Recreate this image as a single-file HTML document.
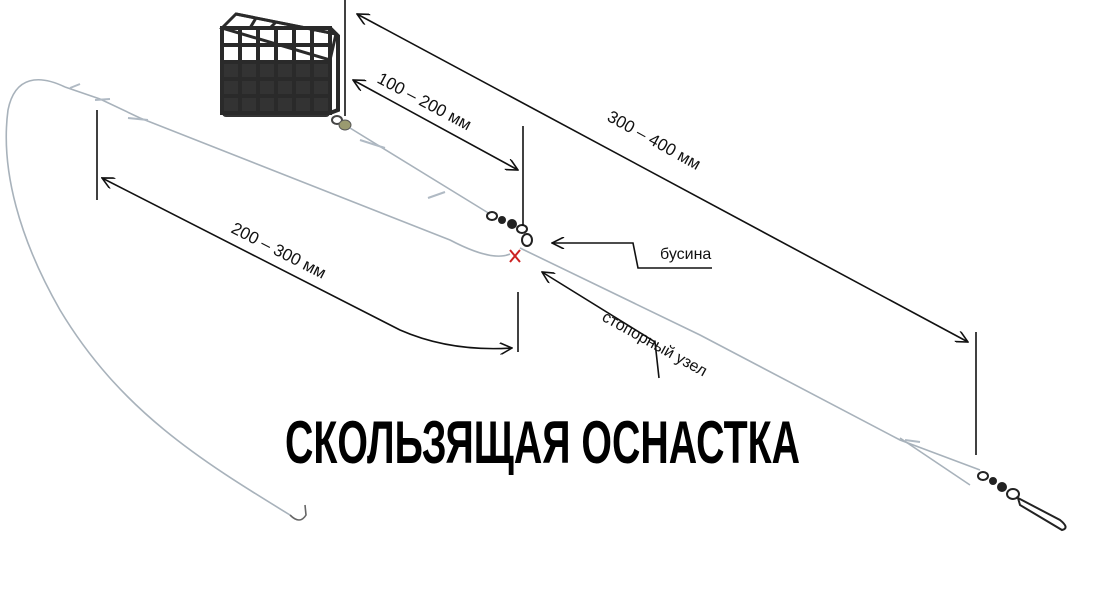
<!DOCTYPE html>
<html><head><meta charset="utf-8"><style>
html,body{margin:0;padding:0;background:#fff;width:1110px;height:607px;overflow:hidden}
svg{display:block}
text{font-family:"Liberation Sans","DejaVu Sans",sans-serif;fill:#111}
</style></head><body>
<svg width="1110" height="607" viewBox="0 0 1110 607" xmlns="http://www.w3.org/2000/svg">
<defs>
<marker id="ah" markerWidth="14" markerHeight="12" refX="1" refY="6" orient="auto" markerUnits="userSpaceOnUse">
<path d="M13,0 L1,6 L13,12" fill="none" stroke="#111" stroke-width="1.6"/>
</marker>
<marker id="ah2" markerWidth="14" markerHeight="12" refX="13" refY="6" orient="auto" markerUnits="userSpaceOnUse">
<path d="M1,0 L13,6 L1,12" fill="none" stroke="#111" stroke-width="1.6"/>
</marker>
</defs>
<!-- feeder cage -->
<g stroke="#2a2a2a" fill="none">
<rect x="222" y="62" width="108" height="55" fill="#333" stroke="none" rx="4"/>
<path d="M222,28 L236,14 L336,34 L330,60 Z" fill="#fff" stroke-width="3"/>
<rect x="222" y="28" width="108" height="85" fill="none" stroke-width="4"/>
<path d="M240,28 V113 M258,28 V113 M276,28 V113 M294,28 V113 M312,28 V113 M222,45 H330 M222,62 H330 M222,79 H330 M222,96 H330" stroke-width="4"/>
<path d="M330,28 L338,36 V110 L330,113" stroke-width="4"/>
<path d="M236,14 L336,34 M256,18 L250,28 M276,22 L270,28 M296,26 L290,28 M316,30 L312,30" stroke-width="3"/>
</g>
<ellipse cx="337" cy="120" rx="5" ry="4" fill="none" stroke="#444" stroke-width="2"/>
<ellipse cx="345" cy="125" rx="6" ry="5" fill="#9a9a70" stroke="#555"/>
<!-- fishing lines -->
<g stroke="#a8b2bb" stroke-width="1.6" fill="none">
<path d="M350,128 L490,214"/>
<path d="M65,87 L100,99 L140,118 L450,240 Q492,262 510,254"/>
<path d="M65,87 C40,75 15,75 8,110 C0,170 20,240 60,310 C120,410 200,460 290,515"/>
<path d="M520,248 L700,335 L900,440 L980,470"/>
<path d="M900,438 L970,485"/>
</g>
<path d="M290,515 Q300,525 306,515 L305,505" stroke="#666" stroke-width="1.6" fill="none"/>
<!-- knots -->
<g stroke="#b0bac4" stroke-width="2" fill="none">
<path d="M70,88 L80,84 M95,100 L110,99 M128,118 L148,120 M360,140 L385,148 M428,198 L445,192 M905,440 L920,442"/>
</g>
<!-- swivel top -->
<g stroke="#222" stroke-width="2" fill="none">
<ellipse cx="492" cy="216" rx="5" ry="4"/>
<circle cx="502" cy="220" r="3" fill="#222"/>
<circle cx="512" cy="224" r="4" fill="#222"/>
<ellipse cx="522" cy="229" rx="5" ry="4"/>
<ellipse cx="527" cy="240" rx="5" ry="6" stroke-width="2"/>
</g>
<path d="M510,250 L520,262 M520,250 L510,262" stroke="#c22" stroke-width="2"/>
<!-- bottom swivel -->
<g stroke="#222" stroke-width="2" fill="none">
<ellipse cx="983" cy="476" rx="5" ry="4"/>
<circle cx="993" cy="481" r="3" fill="#222"/>
<circle cx="1002" cy="487" r="4" fill="#222"/>
<ellipse cx="1013" cy="494" rx="6" ry="5"/>
<path d="M1018,498 L1060,520 Q1070,528 1062,530 L1020,505 Z"/>
</g>
<!-- dimension lines -->
<g stroke="#111" stroke-width="1.6" fill="none">
<path d="M345,0 V116"/>
<path d="M523,126 V226"/>
<path d="M976,332 V455"/>
<path d="M97,110 V200"/>
<path d="M518,292 V352"/>
<path d="M357,14 L968,342" marker-start="url(#ah)" marker-end="url(#ah2)"/>
<path d="M353,80 L518,170" marker-start="url(#ah)" marker-end="url(#ah2)"/>
<path d="M102,178 L400,330 Q450,352 512,348" marker-start="url(#ah)" marker-end="url(#ah2)"/>
<path d="M552,243 H633 L638,268 H712" marker-start="url(#ah)"/>
<path d="M542,272 L655,342 L659,378" marker-start="url(#ah)"/>
</g>
<text transform="translate(376,82) rotate(28)" font-size="17">100 – 200 мм</text>
<text transform="translate(606,120) rotate(29)" font-size="17">300 – 400 мм</text>
<text transform="translate(230,232) rotate(27)" font-size="17">200 – 300 мм</text>
<text x="660" y="259" font-size="16">бусина</text>
<text transform="translate(601,320) rotate(29)" font-size="16">стопорный узел</text>
<text x="285" y="463" font-size="60" font-weight="bold" textLength="515" lengthAdjust="spacingAndGlyphs" stroke="#fff" stroke-width="6" paint-order="stroke" style="fill:#000">СКОЛЬЗЯЩАЯ ОСНАСТКА</text>
</svg>
</body></html>
